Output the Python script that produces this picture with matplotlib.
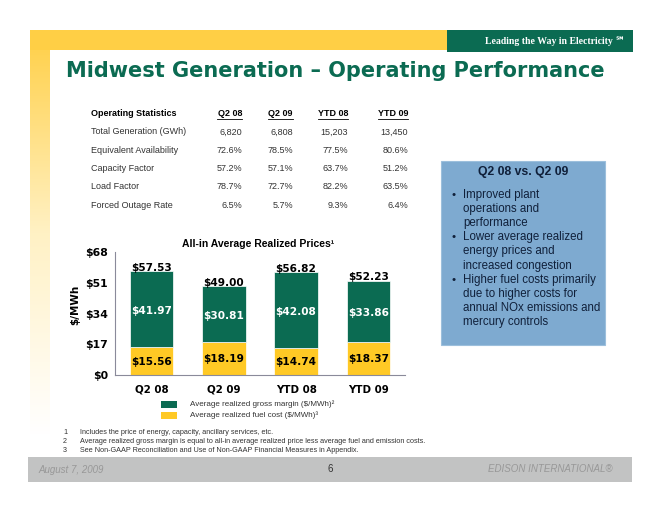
import numpy as np
import matplotlib
matplotlib.use("Agg")
import matplotlib.pyplot as plt
from matplotlib.patches import Rectangle
from matplotlib.colors import LinearSegmentedColormap

plt.rcParams['font.family'] = ['Liberation Sans', 'DejaVu Sans']

# data
categories = ['Q2 08', 'Q2 09', 'YTD 08', 'YTD 09']
fuel_cost = [15.56, 18.19, 14.74, 18.37]
gross_margin = [41.97, 30.81, 42.08, 33.86]
all_in_price = [57.53, 49.00, 56.82, 52.23]
y_ticks = [0, 17, 34, 51, 68]

stat_names = ['Total Generation (GWh)', 'Equivalent Availability', 'Capacity Factor',
              'Load Factor', 'Forced Outage Rate']
stat_cols = ['Q2 08', 'Q2 09', 'YTD 08', 'YTD 09']
stat_values = [['6,820', '6,808', '15,203', '13,450'],
               ['72.6%', '78.5%', '77.5%', '80.6%'],
               ['57.2%', '57.1%', '63.7%', '51.2%'],
               ['78.7%', '72.7%', '82.2%', '63.5%'],
               ['6.5%', '5.7%', '9.3%', '6.4%']]

bullets = [['Improved plant', 'operations and', 'performance'],
           ['Lower average realized', 'energy prices and', 'increased congestion'],
           ['Higher fuel costs primarily', 'due to higher costs for',
            'annual NOx emissions and', 'mercury controls']]

footnotes = ['Includes the price of energy, capacity, ancillary services, etc.',
             'Average realized gross margin is equal to all-in average realized price less average fuel and emission costs.',
             'See Non-GAAP Reconciliation and Use of Non-GAAP Financial Measures in Appendix.']

GREEN = '#0b6b52'
YELLOW = '#ffc925'
BAND = '#ffcf45'
W, H = 662, 512
WIDE = ['DejaVu Sans']

fig = plt.figure(figsize=(W / 100, H / 100), dpi=100)

# background layer in pixel coordinates
bg = fig.add_axes([0, 0, 1, 1])
bg.set_xlim(0, W)
bg.set_ylim(H, 0)
bg.axis('off')

# yellow top band and fading left bar
bg.add_patch(Rectangle((30, 30), 417, 20, color=BAND, lw=0))
grad = np.linspace(0, 1, 256).reshape(-1, 1)
fade = LinearSegmentedColormap.from_list('fade', [BAND, '#fff1c4', '#ffffff'])
bg.imshow(grad, cmap=fade, extent=(30, 50, 435, 30), aspect='auto', zorder=0)
bg.add_patch(Rectangle((447, 30), 186, 22, color=GREEN, lw=0))
bg.text(625, 41, 'Leading the Way in Electricity \u2120', color='white', fontsize=7,
        family=['Liberation Serif', 'DejaVu Serif', 'DejaVu Sans'], weight='bold',
        ha='right', va='center')

# title
bg.text(66, 71, 'Midwest Generation \u2013 Operating Performance', color=GREEN,
        fontsize=15, family=WIDE, weight='bold', ha='left', va='center')

# statistics table
col_x = [242, 293, 348, 408]
bg.text(91, 113, 'Operating Statistics', fontsize=6.5, weight='bold', va='center')
for cx, c in zip(col_x, stat_cols):
    bg.text(cx, 113, c, fontsize=6.5, weight='bold', ha='right', va='center')
    w = len(c) * 5.0
    bg.plot([cx - w, cx], [118.5, 118.5], color='black', lw=0.6)
for i, (name, vals) in enumerate(zip(stat_names, stat_values)):
    y = 132 + i * 18.3
    bg.text(91, y, name, fontsize=6.5, color='#333333', va='center')
    for cx, v in zip(col_x, vals):
        bg.text(cx, y, v, fontsize=6.5, color='#333333', ha='right', va='center')

# blue commentary box
bg.add_patch(Rectangle((441, 161), 164, 184, facecolor='#7eaad0', edgecolor='#9cbfdc', lw=0.8))
bg.text(523, 172, 'Q2 08 vs. Q2 09', fontsize=8.8, weight='bold', color='#10203a',
        ha='center', va='center')
k = 0
for lines in bullets:
    bg.text(451, 195 + k * 14.1, '\u2022', fontsize=8.2, color='#10203a', va='center')
    for ln in lines:
        bg.text(463, 195 + k * 14.1, ln, fontsize=8.3, color='#10203a', va='center')
        k += 1

# stacked bar chart
ax = fig.add_axes([115 / W, 1 - 375 / H, (405 - 115) / W, (375 - 252) / H])
x = np.arange(len(categories))
ax.bar(x, fuel_cost, width=0.6, color=YELLOW, edgecolor='white', lw=0.5)
ax.bar(x, gross_margin, width=0.6, bottom=fuel_cost, color=GREEN, edgecolor='white', lw=0.5)
for xi, f, g, t in zip(x, fuel_cost, gross_margin, all_in_price):
    ax.text(xi, f / 2 - 0.4, f'${f:.2f}', ha='center', va='center', fontsize=7.6,
            family=WIDE, weight='bold')
    ax.text(xi, f + g / 2 - 1.2, f'${g:.2f}', ha='center', va='center', fontsize=7.6,
            family=WIDE, weight='bold', color='white')
    ax.text(xi, t + 1.9, f'${t:.2f}', ha='center', va='center', fontsize=7.6,
            family=WIDE, weight='bold')
ax.set_xlim(-0.51, 3.51)
ax.set_ylim(0, 68)
ax.set_yticks(y_ticks)
ax.set_yticklabels([f'${v}' for v in y_ticks], fontsize=7.8, family=WIDE, weight='bold')
ax.set_xticks(x)
ax.set_xticklabels(categories, fontsize=7.4, family=WIDE, weight='bold')
ax.tick_params(length=0)
ax.tick_params(axis='x', pad=7)
ax.tick_params(axis='y', pad=5)
for s in ['top', 'right']:
    ax.spines[s].set_visible(False)
for s in ['left', 'bottom']:
    ax.spines[s].set_color('#8a8a9a')
    ax.spines[s].set_linewidth(0.8)
ax.patch.set_alpha(0)
bg.text(75, 305, '$/MWh', fontsize=7.5, family=WIDE, weight='bold', rotation=90,
        ha='center', va='center')
bg.text(258, 244, 'All-in Average Realized Prices\u00b9', fontsize=7.5,
        weight='bold', ha='center', va='center')

# legend
bg.add_patch(Rectangle((161, 401), 16, 7, color=GREEN, lw=0))
bg.add_patch(Rectangle((161, 412), 16, 7, color=YELLOW, lw=0))
bg.text(190, 404.5, 'Average realized gross margin ($/MWh)\u00b2', fontsize=5.8,
        color='#333333', va='center')
bg.text(190, 415.5, 'Average realized fuel cost ($/MWh)\u00b3', fontsize=5.8,
        color='#333333', va='center')

# footnotes
for i, note in enumerate(footnotes):
    yy = 432 + i * 9.5
    bg.text(63, yy, str(i + 1), fontsize=5.2, color='#333333', va='center')
    bg.text(80, yy, note, fontsize=5.2, color='#333333', va='center')

# footer
bg.add_patch(Rectangle((28, 457), 604, 25, color='#c2c3c3', lw=0))
bg.text(38, 470, 'August 7, 2009', fontsize=7, style='italic', color='#989898', va='center')
bg.text(330, 469, '6', fontsize=7, color='#333333', ha='center', va='center')
bg.text(613, 469, 'EDISON INTERNATIONAL\u00ae', fontsize=7, style='italic', color='#989898',
        ha='right', va='center')

fig.savefig('out.png', dpi=100)
